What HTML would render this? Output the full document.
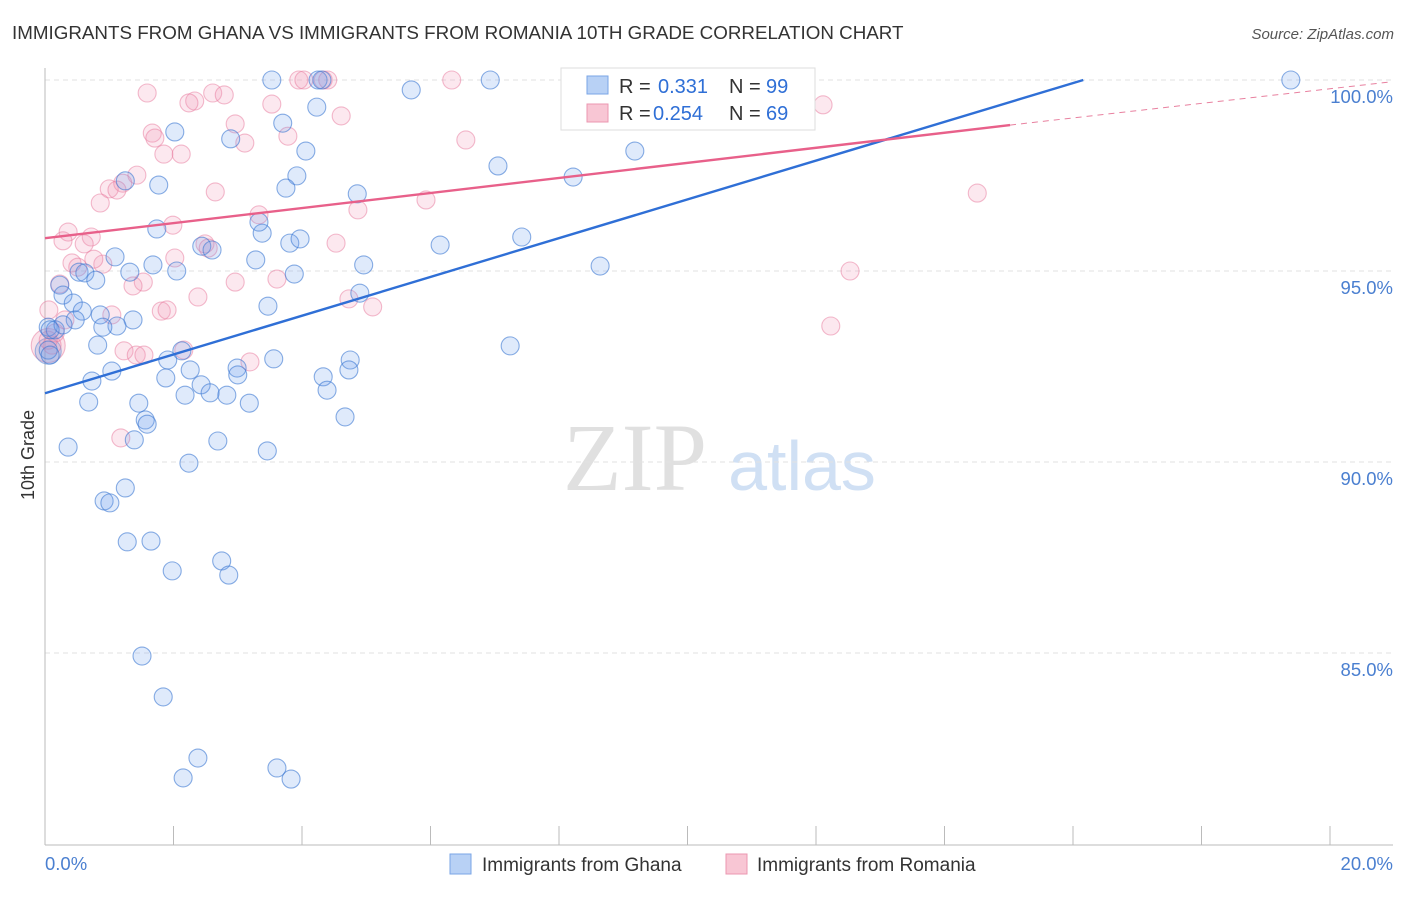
<!DOCTYPE html>
<html><head><meta charset="utf-8"><style>
body{margin:0;background:#fff;font-family:"Liberation Sans",sans-serif;}
svg text{font-family:"Liberation Sans",sans-serif;}
</style></head><body>
<svg id="c" width="1406" height="892" xmlns="http://www.w3.org/2000/svg">
<text x="12" y="39" font-size="18.8" fill="#333">IMMIGRANTS FROM GHANA VS IMMIGRANTS FROM ROMANIA 10TH GRADE CORRELATION CHART</text>
<text x="1394" y="39" font-size="15" fill="#555" font-style="italic" text-anchor="end">Source: ZipAtlas.com</text>
<text x="635" y="490" font-size="96" fill="#e0e0e0" text-anchor="middle" style="font-family:'Liberation Serif',serif">ZIP</text>
<text x="802" y="490" font-size="70" fill="#d0e0f4" text-anchor="middle">atlas</text>
<text transform="translate(34,455) rotate(-90)" font-size="18" fill="#333" text-anchor="middle">10th Grade</text>
<g id="grid"></g><g id="pts"></g><g id="lines"></g>
<g>
<rect x="561" y="68" width="254" height="62" fill="#fff" stroke="#ddd"/>
<rect x="587" y="76" width="21" height="18" fill="#b8d1f5" stroke="#7aa5e6"/>
<rect x="587" y="104" width="21" height="18" fill="#f8c6d4" stroke="#eb97b0"/>
<text x="619" y="93" font-size="20" fill="#333">R =</text><text x="658" y="93" font-size="20" fill="#2f6fd6">0.331</text>
<text x="729" y="93" font-size="20" fill="#333">N =</text><text x="766" y="93" font-size="20" fill="#2f6fd6">99</text>
<text x="619" y="120" font-size="20" fill="#333">R =</text><text x="653" y="120" font-size="20" fill="#2f6fd6">0.254</text>
<text x="729" y="120" font-size="20" fill="#333">N =</text><text x="766" y="120" font-size="20" fill="#2f6fd6">69</text>
</g>
<g><rect x="450" y="854" width="21" height="20" fill="#b8d1f5" stroke="#7aa5e6"/><text x="482" y="871" font-size="19" fill="#333">Immigrants from Ghana</text></g>
<g><rect x="726" y="854" width="21" height="20" fill="#f8c6d4" stroke="#eb97b0"/><text x="757" y="871" font-size="19" fill="#333">Immigrants from Romania</text></g>
</svg>
<script>
const blueX=[3.53,4.25,4.31,6.93,19.39,5.70,4.23,3.70,2.02,2.89,4.06,9.18,7.05,3.92,1.77,3.75,4.86,8.22,1.25,1.74,3.38,3.33,2.44,2.60,3.81,3.97,6.15,7.42,1.09,1.68,1.32,2.05,3.28,3.88,4.96,8.64,0.53,0.62,0.79,0.23,0.28,0.44,0.58,3.47,4.90,0.47,0.86,1.37,1.12,0.90,0.05,0.16,0.28,0.08,0.82,2.13,7.24,1.91,3.56,4.75,2.99,2.26,1.04,3.00,4.73,1.88,0.73,4.33,2.43,4.39,2.18,2.57,2.83,0.68,3.18,1.46,1.56,1.59,4.67,0.36,1.39,2.69,3.46,2.24,1.25,0.92,1.01,1.28,1.65,2.75,1.98,2.86,1.51,1.84,2.38,2.15,3.61,3.83,0.05,0.08];
const blueY=[100,100,100,100,100,99.74,99.29,98.87,98.64,98.46,98.14,98.14,97.75,97.49,97.25,97.17,97.02,97.46,97.36,96.10,95.99,96.28,95.65,95.55,95.73,95.84,95.68,95.89,95.37,95.16,94.97,95.00,95.29,94.92,95.16,95.13,94.97,94.95,94.76,94.63,94.37,94.16,93.95,94.08,94.42,93.72,93.85,93.72,93.56,93.53,93.53,93.46,93.59,93.46,93.06,92.91,93.04,92.67,92.70,92.67,92.46,92.41,92.38,92.28,92.41,92.20,92.12,92.23,92.02,91.88,91.75,91.81,91.75,91.57,91.54,91.54,91.10,90.99,91.18,90.39,90.58,90.55,90.29,89.97,89.32,88.98,88.93,87.91,87.93,87.41,87.15,87.04,84.92,83.85,82.25,81.73,81.99,81.70,92.93,92.80];
const pinkX=[3.95,4.03,4.33,4.40,6.33,9.09,1.59,2.61,2.79,2.33,2.24,3.53,12.11,4.61,2.96,1.67,1.71,6.55,3.78,3.11,1.85,2.12,2.65,14.51,1.00,1.43,1.21,1.12,0.86,5.93,4.87,3.33,1.99,0.36,0.72,0.28,0.61,2.49,4.53,2.54,2.02,0.90,0.42,0.76,0.51,2.96,1.53,1.37,3.61,12.53,0.23,2.38,4.73,5.10,0.06,1.04,1.81,1.90,12.23,1.23,1.42,2.16,3.19,0.11,0.05,1.18,0.16,0.31,1.54];
const pinkY=[100,100,100,100,100,100,99.66,99.66,99.61,99.45,99.40,99.37,99.35,99.06,98.85,98.61,98.48,98.43,98.53,98.35,98.06,98.06,97.07,97.04,97.15,97.51,97.30,97.12,96.78,96.86,96.60,96.47,96.20,96.02,95.89,95.79,95.71,95.71,95.73,95.60,95.34,95.18,95.21,95.31,95.10,94.71,94.71,94.61,94.79,95.00,94.66,94.32,94.27,94.06,93.98,93.85,93.95,93.98,93.56,92.91,92.80,92.93,92.62,93.06,93.19,90.63,93.38,93.72,92.80];
const bigPinkX=[0.05], bigPinkY=[93.05];
const bigBlueX=[0.05], bigBlueY=[92.9];
const yTicks=[100,95,90,85];
const yTickLabels=["100.0%","95.0%","90.0%","85.0%"];
const xTicks=[0,2,4,6,8,10,12,14,16,18,20];
const blueTrend=[[0,91.8],[16.16,100]];
const pinkTrend=[[0,95.86],[15.02,98.82]];
const pinkTrendDash=[[15.02,98.82],[20.94,99.95]];
const X=v=>45+v*64.25, Y=v=>80+(100-v)*38.2;
const NS="http://www.w3.org/2000/svg";
function mk(tag,attrs,parent){const e=document.createElementNS(NS,tag);for(const k in attrs)e.setAttribute(k,attrs[k]);parent.appendChild(e);return e;}
const grid=document.getElementById('grid'),pts=document.getElementById('pts'),lines=document.getElementById('lines');
yTicks.forEach((t,i)=>{
 const l=mk('line',{x1:45,x2:1393,y1:Y(t),y2:Y(t),stroke:'#e2e2e2','stroke-dasharray':'5,4'},grid);
 
 
 const tx=mk('text',{x:1393,y:Y(t)+23,'font-size':18.5,fill:'#4a7fd0','text-anchor':'end'},grid);
 tx.textContent=yTickLabels[i];
 
 
});
const ax=mk('line',{x1:45,x2:45,y1:68,y2:845,stroke:'#bbb'},grid);


const bx=mk('line',{x1:45,x2:1393,y1:845,y2:845,stroke:'#bbb'},grid);


xTicks.forEach(t=>{
 const l=mk('line',{x1:X(t),x2:X(t),y1:826,y2:845,stroke:'#bbb'},grid);
 
 
});
const xl0=mk('text',{x:45,y:870,'font-size':18.5,fill:'#4a7fd0'},grid);xl0.textContent=xTicks[0].toFixed(1)+'%';


const xl1=mk('text',{x:1393,y:870,'font-size':18.5,fill:'#4a7fd0','text-anchor':'end'},grid);xl1.textContent=xTicks[xTicks.length-1].toFixed(1)+'%';


function dots(xs,ys,fill,stroke,r,name){xs.forEach((x,i)=>{
 const c=mk('circle',{cx:X(x),cy:Y(ys[i]),r:r,fill:fill,stroke:stroke,'stroke-width':1.1},pts);
 
 
});}
dots(bigPinkX,bigPinkY,'rgba(235,140,170,0.25)','rgba(230,120,155,0.5)',17,'romania-point');
dots(bigBlueX,bigBlueY,'rgba(110,150,220,0.25)','rgba(80,130,210,0.5)',13,'ghana-point');
dots(pinkX,pinkY,'rgba(240,150,180,0.22)','rgba(232,120,155,0.5)',9,'romania-point');
dots(blueX,blueY,'rgba(110,160,235,0.22)','rgba(60,120,210,0.6)',9,'ghana-point');
function ln(p,col,dash,name){const l=mk('line',{x1:X(p[0][0]),y1:Y(p[0][1]),x2:X(p[1][0]),y2:Y(p[1][1]),stroke:col,'stroke-width':dash?1:2.4},lines);
 if(dash)l.setAttribute('stroke-dasharray','6,5');
 
 }
ln(blueTrend,'#2f6fd6',false,'ghana-trend-line');
ln(pinkTrend,'#e8608a',false,'romania-trend-line');
ln(pinkTrendDash,'#e8809f',true,'romania-trend-extension');
</script>
</body></html>
